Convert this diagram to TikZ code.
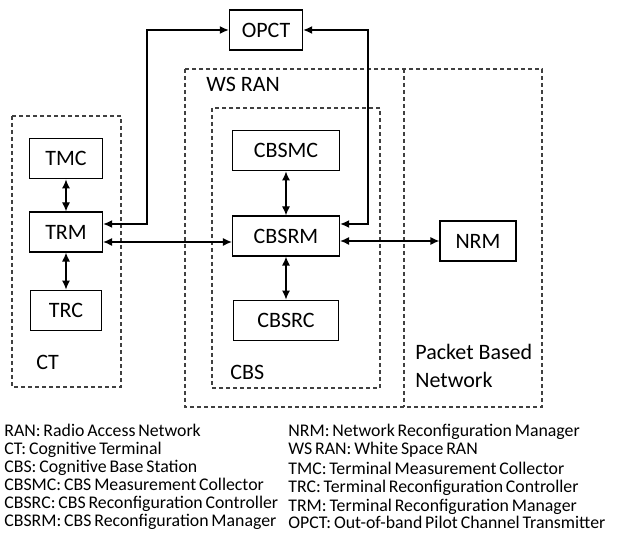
\documentclass[tikz,border=0pt]{standalone}
\usepackage{fontspec}
\setmainfont{Carlito}
\usetikzlibrary{positioning, arrows.meta}
\newcommand\legfont{\fontsize{8.9}{10}\selectfont\spaceskip=0.16em\relax}
\tikzstyle{blk}=[draw,line width=0.6pt,minimum height=20pt,inner sep=0pt,font=\fontsize{11}{13}\selectfont]
\tikzstyle{grp}=[draw=black!75,line width=0.6pt,dash pattern=on 2pt off 1.5pt]
\tikzstyle{lnk}=[<->,>={Latex[length=4.5pt,width=4pt]},line width=0.6pt]
\tikzstyle{lbl}=[anchor=base west,inner sep=0pt,font=\fontsize{11}{13}\selectfont]
\tikzstyle{leg}=[anchor=base west,inner sep=0pt,font=\legfont]

\begin{document}
\begin{tikzpicture}[x=0.5pt,y=-0.5pt]
    \useasboundingbox (0,0) rectangle (626,549);
    % dashed groups
    \draw[grp] (185,69) rectangle (542,407);
    \draw[grp] (404,69) -- (404,407);
    \draw[grp] (212,108) rectangle (380,388);
    \draw[grp] (12,116) rectangle (121,387);
    \node[lbl] (wsran) at (206,92) {WS RAN};
    \node[lbl] (ct) at (36,370) {CT};
    \node[lbl] (cbs) at (230,380) {CBS};
    \node[lbl] (pbn1) at (415,360) {Packet Based};
    \node[lbl] (pbn2) at (415,388) {Network};
    % blocks
    \node[blk,minimum width=36.5pt] (opct) at (266,30) {OPCT};
    \node[blk,minimum width=36.5pt] (trm) at (66,232) {TRM};
    \node[blk,minimum width=36.5pt,above=16pt of trm] (tmc) {TMC};
    \node[blk,minimum width=35.5pt,below=18.5pt of trm] (trc) {TRC};
    \node[blk,minimum width=53.5pt] (cbsrm) at (286,236) {CBSRM};
    \node[blk,minimum width=53.5pt,above=22pt of cbsrm] (cbsmc) {CBSMC};
    \node[blk,minimum width=52.5pt,below=21.5pt of cbsrm] (cbsrc) {CBSRC};
    \node[blk,minimum width=38pt] (nrm) at (478,241) {NRM};
    % links
    \draw[lnk] (tmc) -- (trm);
    \draw[lnk] (trm) -- (trc);
    \draw[lnk] (cbsmc) -- (cbsrm);
    \draw[lnk] (cbsrm) -- (cbsrc);
    \coordinate (opctl) at (147,30);
    \coordinate (opctr) at (368,30);
    \draw[lnk,line width=0.8pt] ([yshift=4pt]trm.east) -| (opctl) -- (opct.west);
    \draw[lnk,line width=0.8pt] (opct.east) -- (opctr) |- ([yshift=6pt]cbsrm.east);
    \draw[lnk] ([yshift=-5pt]trm.east) -- ([yshift=-5pt]trm.east -| cbsrm.west);
    \draw[lnk] (cbsrm.east |- nrm.west) -- (nrm.west);
    % legend
    \foreach \t [count=\i] in {RAN: Radio Access Network, CT: Cognitive Terminal,
        CBS: Cognitive Base Station, CBSMC: CBS Measurement Collector,
        CBSRC: CBS Reconfiguration Controller, CBSRM: CBS Reconfiguration Manager}
        \node[leg] (legl\i) at (4,{437+17.8*(\i-1)}) {\t};
    \foreach \t/\yy [count=\i] in {NRM: Network Reconfiguration Manager/437,
        WS RAN: White Space RAN/455, TMC: Terminal Measurement Collector/475,
        TRC: Terminal Reconfiguration Controller/493, TRM: Terminal Reconfiguration Manager/511,
        OPCT: Out-of-band Pilot Channel Transmitter/529}
        \node[leg] (legr\i) at (288,\yy) {\t};
\end{tikzpicture}
\end{document}
